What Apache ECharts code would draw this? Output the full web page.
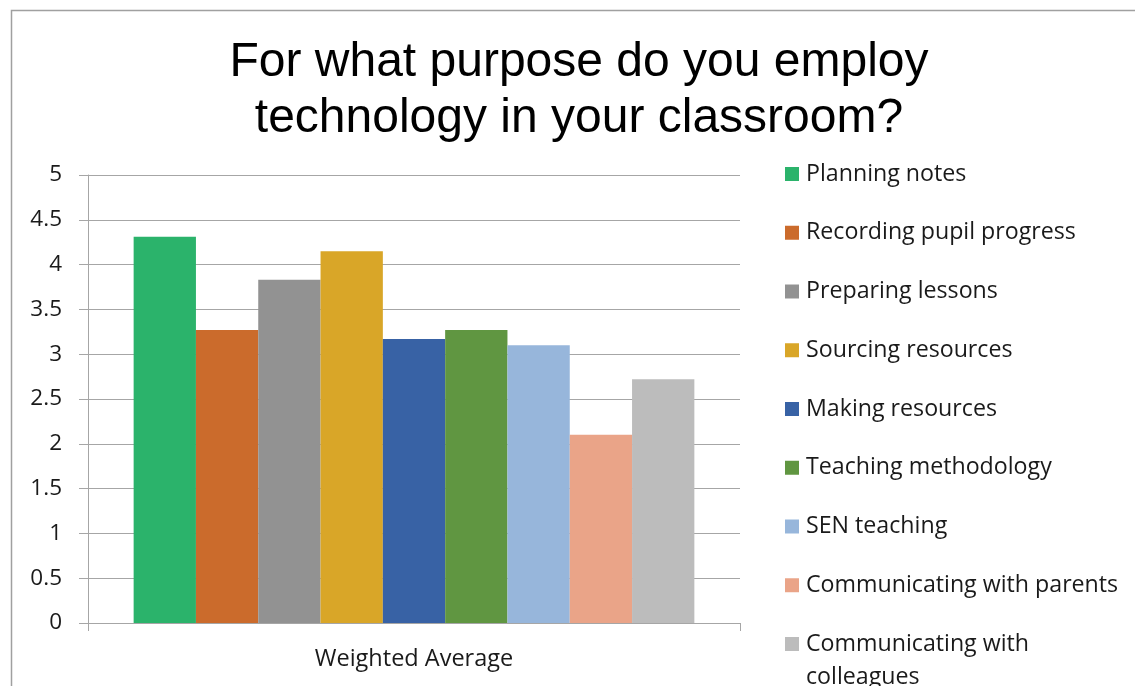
<!DOCTYPE html>
<html>
<head>
<meta charset="utf-8">
<script src="https://cdn.jsdelivr.net/npm/echarts@6/dist/echarts.min.js"></script>
<style>
  html, body { margin: 0; padding: 0; background: #ffffff; }
  #chart { width: 1135px; height: 686px; }
</style>
</head>
<body>
<div id="chart"></div>
<script>
// Survey question and axis category
const titleText = 'For what purpose do you employ\ntechnology in your classroom?';
const categories = ['Weighted Average'];

// One bar per purpose, weighted average score
const purposes = [
  'Planning notes',
  'Recording pupil progress',
  'Preparing lessons',
  'Sourcing resources',
  'Making resources',
  'Teaching methodology',
  'SEN teaching',
  'Communicating with parents',
  'Communicating with colleagues'
];
const weightedAverages = [4.31, 3.27, 3.83, 4.15, 3.17, 3.27, 3.10, 2.10, 2.72];
const barColors = ['#2bb36b', '#cb6b2c', '#929292', '#d9a628', '#3862a5',
                   '#609641', '#97b6db', '#eaa488', '#bcbcbc'];

// Value axis ticks
const yMin = 0, yMax = 5, yStep = 0.5;

const labelFont = '"Open Sans", Lato, sans-serif';
const axisGray = '#a6a6a6';

const series = purposes.map((name, i) => ({
  name: name,
  type: 'bar',
  data: [weightedAverages[i]],
  barGap: '0%',
  barCategoryGap: '14%',
  itemStyle: { color: barColors[i] },
  emphasis: { disabled: true }
}));

const legendText = {
  fontFamily: labelFont,
  fontSize: 23.2,
  lineHeight: 33,
  color: '#1a1a1a',
  padding: [0, 0, 0, 2]
};

const chart = echarts.init(document.getElementById('chart'), null, { renderer: 'canvas' });
chart.setOption({
  animation: false,
  backgroundColor: '#ffffff',
  title: {
    text: titleText,
    left: 579,
    top: 35,
    padding: 0,
    textAlign: 'center',
    textStyle: {
      fontFamily: '"Liberation Sans", Arial, sans-serif',
      fontSize: 48,
      lineHeight: 56,
      fontWeight: 'normal',
      color: '#000000'
    }
  },
  graphic: [{
    type: 'rect',
    silent: true,
    shape: { x: 11.5, y: 10.5, width: 1400, height: 900 },
    style: { fill: 'none', stroke: '#a0a0a0', lineWidth: 1.5 }
  }],
  legend: [{
    orient: 'vertical',
    left: 785,
    top: 157.5,
    padding: 0,
    itemWidth: 14,
    itemHeight: 14,
    itemGap: 25.75,
    icon: 'rect',
    selectedMode: false,
    data: purposes.slice(0, 8),
    textStyle: legendText
  }, {
    // last entry wraps onto two lines, its swatch sits beside the first line
    orient: 'vertical',
    left: 785,
    top: 627.5,
    height: 120,
    padding: 0,
    itemWidth: 14,
    itemHeight: 47,
    itemGap: 0,
    icon: 'path://M0,0H14V14H0Z M0,47L0,47',
    selectedMode: false,
    data: purposes.slice(8),
    formatter: function (name) { return name.replace(' with ', ' with\n'); },
    textStyle: legendText
  }],
  grid: {
    left: 88,
    right: 395,
    top: 175,
    bottom: 63,
    containLabel: false
  },
  xAxis: {
    type: 'category',
    data: categories,
    axisLine: { show: true, lineStyle: { color: axisGray, width: 1 } },
    axisTick: { show: true, length: 8, lineStyle: { color: axisGray } },
    axisLabel: {
      margin: 24,
      fontFamily: labelFont,
      fontSize: 23.5,
      color: '#1a1a1a'
    },
    splitLine: { show: false }
  },
  yAxis: {
    type: 'value',
    min: yMin,
    max: yMax,
    interval: yStep,
    axisLine: { show: true, lineStyle: { color: axisGray, width: 1 } },
    axisTick: { show: true, length: 9, lineStyle: { color: axisGray } },
    axisLabel: {
      margin: 26,
      fontFamily: labelFont,
      fontSize: 22.5,
      color: '#1a1a1a'
    },
    splitLine: { show: true, lineStyle: { color: axisGray, width: 1 } }
  },
  series: series
});
</script>
</body>
</html>
